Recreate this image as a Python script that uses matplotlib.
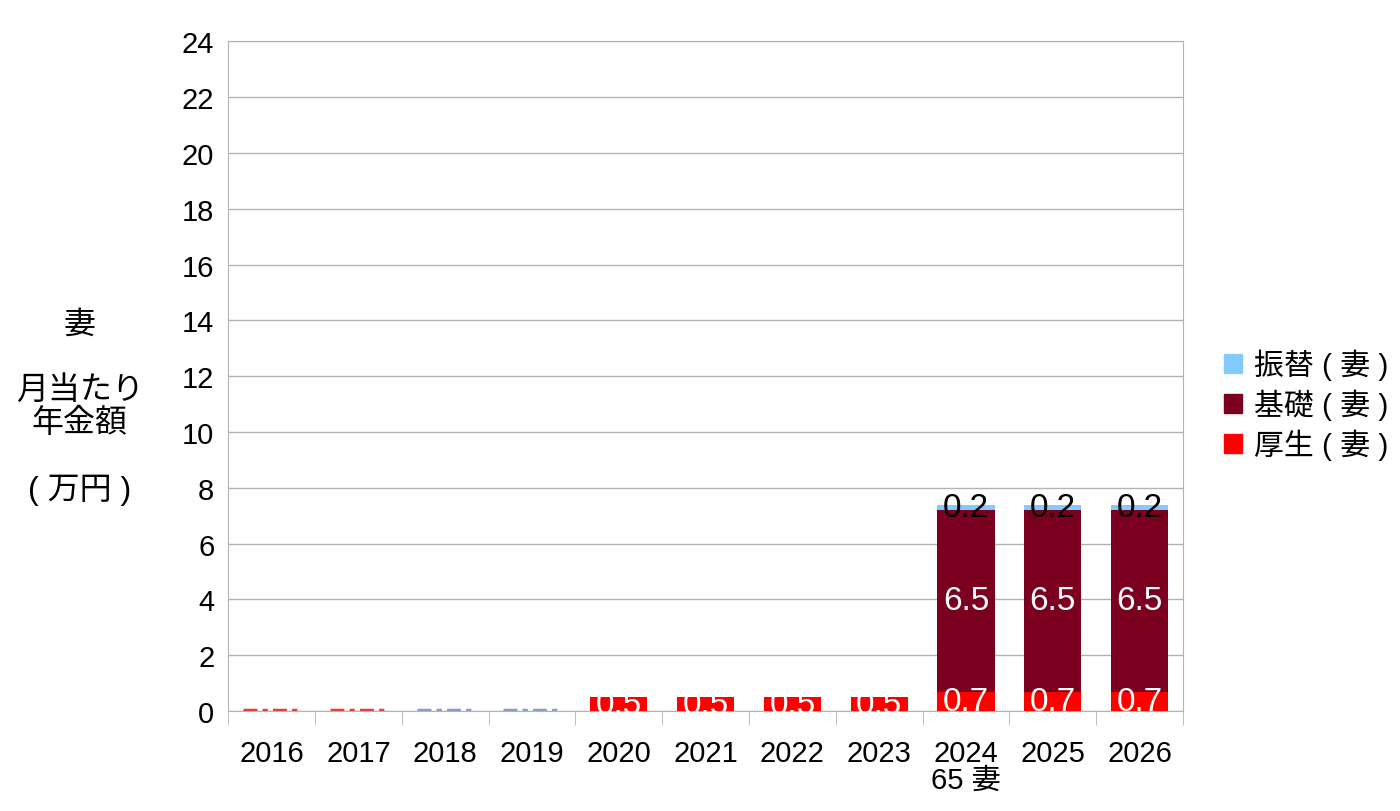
import numpy as np
import matplotlib
matplotlib.use("Agg")
from matplotlib import pyplot as plt
from matplotlib.patches import Patch

plt.rcParams['font.family'] = ['Liberation Sans', 'Noto Sans CJK JP', 'DejaVu Sans']

years = ['2016', '2017', '2018', '2019', '2020', '2021', '2022', '2023', '2024\n65 妻', '2025', '2026']
kousei = [0, 0, 0, 0, 0.5, 0.5, 0.5, 0.5, 0.7, 0.7, 0.7]     # 厚生(妻)
kiso = [0, 0, 0, 0, 0, 0, 0, 0, 6.5, 6.5, 6.5]               # 基礎(妻)
furikae = [0, 0, 0, 0, 0, 0, 0, 0, 0.2, 0.2, 0.2]            # 振替(妻)
series_names = ['厚生 ( 妻 )', '基礎 ( 妻 )', '振替 ( 妻 )']

c_kousei = '#ff0000'
c_kiso = '#7b0020'
c_furikae = '#83caff'

fig = plt.figure(figsize=(14, 8.12), dpi=100)
ax = fig.add_axes([0.163, 0.123, 0.682, 0.825])

x = np.arange(len(years))
w = 0.66
k = np.array(kousei)
b = np.array(kiso)
f = np.array(furikae)

ax.bar(x, k, w, color=c_kousei, zorder=3)
ax.bar(x, b, w, bottom=k, color=c_kiso, zorder=3)
ax.bar(x, f, w, bottom=k + b, color=c_furikae, zorder=3)

# zero-height bars show as short dashes on the axis
zero_cols = ['#e04040', '#e04040', '#8c9cc4', '#8c9cc4']
for i, c in enumerate(zero_cols):
    ax.hlines(0.03, x[i] - w / 2, x[i] + w / 2, colors=c, linestyles=(0, (4, 1.5, 1.5, 1.5)), lw=2.5, zorder=4)

# data labels
lab = dict(ha='center', va='center', fontsize=24, zorder=5)
for i in range(len(years)):
    if k[i] > 0:
        ax.text(x[i], k[i] / 2, f'{k[i]:.1f}', color='white', **lab)
    if b[i] > 0:
        ax.text(x[i], k[i] + b[i] / 2, f'{b[i]:.1f}', color='white', **lab)
    if f[i] > 0:
        ax.text(x[i], k[i] + b[i] + f[i] / 2, f'{f[i]:.1f}', color='black', **lab)

ax.set_xlim(-0.5, len(years) - 0.5)
ax.set_ylim(0, 24)
ax.set_yticks(np.arange(0, 25, 2))
ax.yaxis.grid(True, color='#b3b3b3', lw=1, zorder=0)
ax.set_xticks(x)
ax.set_xticklabels(years, fontsize=21, linespacing=0.95)
ax.tick_params(axis='x', length=0, pad=20)
ax.set_xticks(np.arange(-0.5, len(years)), minor=True)
ax.tick_params(axis='x', which='minor', length=10, color='#b3b3b3')
ax.tick_params(axis='y', length=0, labelsize=21, pad=10)
for s in ax.spines.values():
    s.set_color('#b3b3b3')

fig.text(0.057, 0.497, '妻\n\n月当たり\n年金額\n\n( 万円 )', ha='center', va='center',
         fontsize=23, linespacing=1.12)

handles = [Patch(color=c_furikae), Patch(color=c_kiso), Patch(color=c_kousei)]
ax.legend(handles, series_names[::-1], loc='center left', bbox_to_anchor=(1.015, 0.458),
          frameon=False, fontsize=21.5, handlelength=0.6, handleheight=0.6,
          handletextpad=0.4, labelspacing=0.28)

fig.savefig('out.png', dpi=100)
